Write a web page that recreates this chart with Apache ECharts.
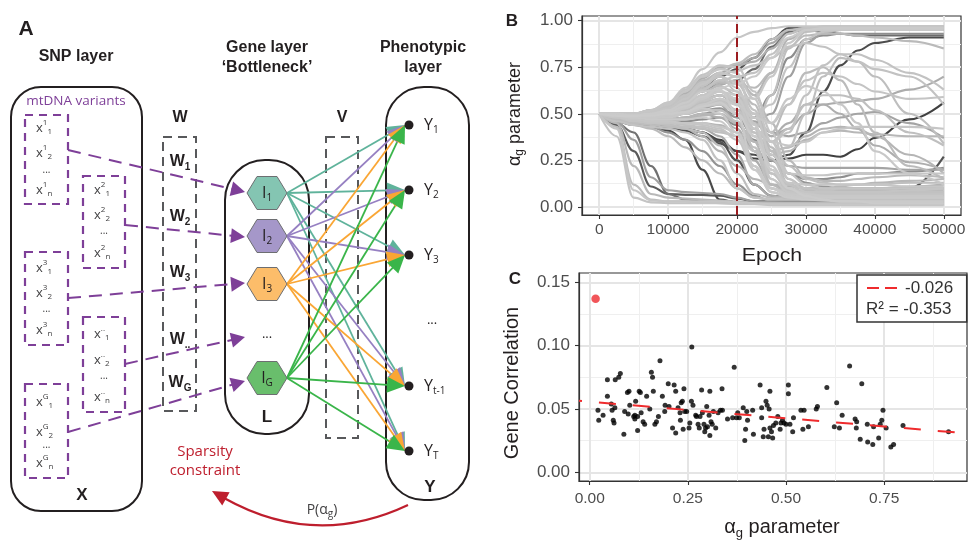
<!DOCTYPE html>
<html>
<head>
<meta charset="utf-8">
<script src="https://cdn.jsdelivr.net/npm/echarts@6/dist/echarts.min.js"></script>
<style>
  html, body { margin: 0; padding: 0; background: #fff; }
  #chart { width: 970px; height: 542px; }
</style>
</head>
<body>
<div id="chart"></div>
<script>
// ---------- panel B: alpha_g trajectories over training ----------
const epochs = [0, 2500, 5000, 7500, 10000, 12500, 15000, 17500, 20000, 22500, 25000, 27500, 30000, 32500, 35000, 37500, 40000, 45000, 50000];
const cutEpoch = 20000;

// genes that collapse early
const earlyDrop = [
  [.50, .38, .05, .025, .02, .02, .02, .02, .015, .015, .01, .01, .01, .01, .01, .01, .01, .01, .01],
  [.50, .43, .12, .04, .03, .03, .025, .02, .02, .02, .02, .02, .02, .02, .02, .02, .02, .02, .02],
  [.50, .45, .22, .07, .05, .045, .04, .035, .03, .02, .02, .02, .02, .02, .02, .02, .02, .02, .02],
  [.50, .44, .30, .11, .07, .065, .065, .06, .045, .03, .03, .03, .03, .03, .03, .03, .03, .03, .03],
  [.50, .46, .36, .16, .09, .08, .075, .07, .05, .03, .025, .02, .02, .02, .02, .02, .02, .02, .02],
  [.50, .42, .09, .035, .03, .03, .03, .03, .025, .02, .015, .015, .015, .015, .015, .015, .015, .015, .015],
  [.50, .45, .40, .22, .07, .04, .03, .03, .025, .02, .02, .02, .02, .02, .02, .02, .02, .02, .02]
];
// genes drifting down then dropping around the cut
const midDrop = [
  [.50, .46, .44, .43, .41, .36, .20, .04, .025, .02, .02, .02, .02, .02, .02, .02, .02, .02, .02],
  [.50, .46, .44, .43, .42, .40, .36, .25, .10, .05, .04, .04, .04, .04, .04, .04, .04, .035, .035],
  [.50, .47, .45, .44, .43, .42, .40, .33, .18, .07, .05, .05, .05, .05, .05, .05, .05, .05, .05],
  [.50, .48, .46, .45, .44, .43, .42, .38, .28, .12, .06, .05, .05, .05, .05, .05, .05, .06, .06],
  [.50, .48, .47, .46, .46, .45, .45, .43, .40, .22, .08, .06, .05, .05, .05, .05, .05, .05, .05],
  [.50, .47, .44, .42, .38, .32, .25, .18, .10, .05, .04, .04, .04, .04, .04, .04, .04, .04, .04],
  [.50, .47, .45, .43, .40, .36, .30, .22, .12, .06, .03, .03, .03, .03, .03, .03, .03, .03, .03],
  [.50, .48, .46, .45, .45, .45, .44, .42, .36, .20, .10, .08, .08, .08, .08, .08, .08, .09, .10],
  [.50, .47, .46, .45, .44, .42, .38, .30, .22, .15, .12, .11, .10, .10, .10, .10, .10, .11, .12],
  [.50, .49, .47, .46, .45, .44, .43, .41, .38, .30, .18, .12, .10, .09, .08, .08, .08, .08, .08]
];
// genes rising first, then pruned
const riseFall = [
  [.50, .50, .50, .52, .55, .62, .70, .74, .72, .45, .15, .08, .06, .05, .05, .05, .05, .05, .05],
  [.50, .50, .50, .51, .54, .59, .66, .70, .62, .30, .10, .06, .05, .045, .04, .04, .04, .04, .04],
  [.50, .50, .49, .50, .52, .56, .62, .63, .50, .20, .08, .05, .04, .035, .03, .03, .03, .03, .03],
  [.50, .50, .49, .49, .50, .53, .58, .60, .55, .35, .12, .07, .06, .06, .06, .06, .06, .06, .06],
  [.50, .50, .49, .48, .49, .51, .55, .57, .52, .40, .20, .10, .08, .08, .08, .08, .08, .07, .07],
  [.50, .49, .48, .48, .48, .50, .53, .50, .40, .22, .10, .07, .06, .05, .05, .05, .05, .05, .05],
  [.50, .50, .50, .51, .53, .57, .64, .68, .66, .55, .30, .12, .09, .08, .08, .08, .08, .08, .08],
  [.50, .50, .50, .52, .56, .63, .71, .76, .75, .62, .40, .18, .12, .10, .10, .10, .10, .10, .10],
  [.50, .49, .48, .47, .47, .48, .50, .48, .42, .25, .12, .09, .08, .07, .07, .07, .07, .07, .07],
  [.50, .50, .49, .49, .50, .52, .56, .58, .55, .48, .35, .22, .15, .13, .12, .12, .12, .13, .13],
  [.50, .50, .50, .50, .52, .55, .60, .64, .62, .50, .28, .18, .17, .17, .18, .18, .18, .18, .18],
  [.50, .50, .49, .49, .50, .52, .55, .55, .45, .30, .25, .22, .21, .21, .21, .21, .21, .20, .20],
  [.50, .50, .50, .51, .54, .60, .68, .72, .70, .60, .45, .25, .16, .14, .14, .15, .16, .17, .16],
  [.50, .49, .49, .49, .50, .51, .54, .56, .50, .38, .20, .10, .06, .04, .03, .03, .02, .02, .02],
  [.50, .50, .50, .51, .53, .58, .65, .70, .67, .52, .26, .12, .07, .05, .04, .03, .03, .03, .03],
  [.50, .49, .48, .48, .49, .50, .52, .53, .48, .38, .28, .18, .13, .11, .10, .10, .10, .10, .10],
  [.50, .50, .49, .49, .51, .54, .59, .62, .58, .44, .22, .10, .07, .06, .06, .06, .06, .06, .06],
  [.50, .49, .49, .48, .49, .50, .52, .52, .46, .32, .15, .08, .05, .04, .04, .04, .04, .04, .04],
  [.50, .50, .50, .51, .53, .58, .66, .72, .70, .58, .35, .15, .08, .06, .05, .05, .05, .05, .05],
  [.50, .50, .49, .49, .50, .52, .57, .60, .57, .50, .32, .15, .10, .09, .09, .09, .09, .09, .09],
  [.50, .49, .48, .47, .47, .47, .48, .46, .38, .22, .10, .06, .05, .05, .05, .05, .05, .05, .05],
  [.50, .50, .50, .51, .54, .60, .67, .70, .64, .42, .18, .09, .07, .07, .07, .07, .07, .07, .07],
  [.50, .49, .48, .47, .46, .45, .45, .44, .40, .30, .18, .12, .10, .10, .11, .12, .13, .14, .15],
  [.50, .50, .50, .50, .52, .55, .60, .62, .56, .38, .20, .13, .12, .12, .12, .12, .12, .11, .11]
];
// genes that saturate near 1
const riseHigh = [
  [.50, .50, .50, .52, .56, .64, .74, .83, .91, .94, .96, .97, .97, .97, .97, .97, .97, .97, .97],
  [.50, .50, .50, .52, .55, .62, .70, .74, .77, .82, .90, .95, .96, .96, .96, .96, .96, .96, .96],
  [.50, .50, .50, .51, .54, .60, .67, .72, .76, .80, .88, .95, .96, .96, .96, .96, .96, .96, .96],
  [.50, .50, .50, .51, .53, .58, .64, .70, .74, .80, .90, .96, .96, .96, .96, .96, .95, .95, .95],
  [.50, .50, .49, .50, .52, .57, .63, .68, .70, .72, .82, .93, .96, .96, .96, .96, .96, .96, .96],
  [.50, .50, .49, .49, .51, .55, .60, .66, .68, .60, .72, .90, .95, .96, .96, .96, .96, .96, .96],
  [.50, .50, .49, .49, .50, .53, .58, .62, .60, .58, .70, .88, .95, .95, .95, .95, .95, .95, .95],
  [.50, .49, .48, .48, .48, .50, .54, .56, .52, .45, .50, .70, .88, .93, .95, .95, .95, .95, .95],
  [.50, .48, .46, .45, .44, .43, .42, .40, .38, .42, .60, .85, .94, .95, .95, .95, .95, .95, .95],
  [.50, .50, .50, .51, .53, .57, .62, .66, .68, .74, .86, .94, .95, .94, .93, .92, .92, .92, .92],
  [.50, .47, .45, .44, .43, .41, .38, .34, .30, .28, .25, .28, .40, .62, .76, .84, .88, .91, .91],
  [.50, .50, .50, .51, .53, .58, .63, .67, .66, .64, .72, .86, .92, .93, .93, .92, .91, .89, .85],
  [.50, .49, .48, .47, .47, .48, .50, .52, .50, .48, .60, .80, .90, .92, .93, .93, .93, .93, .93],
  [.50, .50, .50, .50, .52, .55, .60, .62, .58, .50, .55, .75, .90, .94, .95, .96, .96, .96, .96],
  [.50, .50, .50, .52, .55, .61, .69, .75, .76, .78, .85, .93, .96, .97, .97, .97, .97, .97, .97],
  [.50, .50, .49, .50, .51, .54, .59, .64, .66, .70, .80, .91, .95, .96, .96, .96, .96, .96, .96]
];
// genes still moving late in training
const lateMove = [
  [.50, .50, .49, .50, .52, .56, .60, .62, .55, .42, .35, .40, .60, .76, .82, .82, .79, .72, .63],
  [.50, .49, .48, .48, .49, .52, .56, .58, .52, .40, .30, .32, .50, .70, .80, .78, .70, .50, .34],
  [.50, .48, .46, .45, .44, .42, .40, .36, .30, .26, .25, .26, .28, .28, .27, .31, .37, .47, .56],
  [.50, .50, .49, .50, .51, .54, .58, .60, .55, .45, .38, .42, .50, .55, .56, .57, .58, .63, .70],
  [.50, .49, .48, .48, .49, .51, .54, .55, .50, .42, .35, .33, .35, .40, .42, .43, .43, .43, .42],
  [.50, .49, .48, .47, .47, .48, .50, .50, .45, .35, .28, .30, .36, .40, .41, .40, .39, .38, .38],
  [.50, .50, .49, .49, .50, .52, .55, .56, .50, .40, .35, .42, .55, .60, .60, .58, .52, .40, .33],
  [.50, .47, .45, .44, .43, .42, .40, .35, .25, .12, .06, .05, .04, .04, .04, .04, .05, .10, .27],
  [.50, .50, .49, .49, .50, .53, .57, .60, .58, .50, .45, .55, .68, .72, .70, .66, .62, .58, .59],
  [.50, .50, .50, .51, .53, .57, .62, .65, .60, .48, .40, .55, .72, .75, .68, .55, .40, .22, .15],
  [.50, .50, .49, .50, .51, .53, .57, .60, .56, .45, .38, .45, .55, .55, .50, .42, .33, .24, .20],
  [.50, .49, .48, .48, .49, .51, .55, .58, .55, .48, .45, .58, .65, .62, .55, .45, .30, .18, .12],
  [.50, .48, .47, .46, .46, .47, .49, .50, .45, .35, .30, .32, .38, .42, .43, .42, .38, .28, .18],
  [.50, .50, .50, .51, .54, .59, .66, .71, .73, .76, .80, .86, .88, .86, .82, .78, .74, .70, .55],
  [.50, .49, .48, .48, .49, .50, .53, .55, .52, .46, .40, .38, .40, .45, .48, .50, .51, .45, .37],
  [.50, .48, .47, .46, .46, .46, .47, .48, .44, .36, .25, .18, .15, .15, .16, .18, .18, .19, .21]
];

// ---------- panel C: gene correlation vs alpha_g ----------
const alphaG = [
  0.021, 0.023, 0.034, 0.045, 0.045, 0.055, 0.057, 0.060, 0.062, 0.064, 0.065, 0.074, 0.078, 0.087, 0.089, 0.096,
  0.100, 0.098, 0.102, 0.112, 0.115, 0.115, 0.117, 0.122, 0.122, 0.126, 0.129, 0.131, 0.136, 0.140, 0.145, 0.153,
  0.157, 0.160, 0.162, 0.166, 0.170, 0.175, 0.179, 0.185, 0.191, 0.192, 0.200, 0.202, 0.211, 0.215, 0.219, 0.219,
  0.225, 0.230, 0.231, 0.233, 0.236, 0.238, 0.240, 0.242, 0.247, 0.253, 0.255, 0.259, 0.260, 0.263, 0.270, 0.272,
  0.276, 0.279, 0.281, 0.285, 0.287, 0.291, 0.293, 0.295, 0.298, 0.300, 0.304, 0.306, 0.306, 0.309, 0.312, 0.315,
  0.321, 0.327, 0.333, 0.337, 0.338, 0.351, 0.364, 0.368, 0.374, 0.377, 0.381, 0.391, 0.395, 0.397, 0.400, 0.402,
  0.415, 0.417, 0.434, 0.438, 0.438, 0.442, 0.444, 0.449, 0.452, 0.455, 0.457, 0.459, 0.459, 0.463, 0.466, 0.468,
  0.474, 0.479, 0.485, 0.487, 0.491, 0.495, 0.500, 0.506, 0.506, 0.510, 0.517, 0.519, 0.538, 0.543, 0.546, 0.557,
  0.577, 0.580, 0.604, 0.623, 0.629, 0.636, 0.643, 0.662, 0.676, 0.679, 0.680, 0.689, 0.693, 0.707, 0.708, 0.721,
  0.723, 0.736, 0.740, 0.744, 0.747, 0.755, 0.767, 0.774, 0.798, 0.914
];
const geneCorr = [
  0.049, 0.041, 0.045, 0.073, 0.060, 0.054, 0.049, 0.041, 0.039, 0.051, 0.073, 0.075, 0.078, 0.030, 0.048, 0.063,
  0.064, 0.046, 0.053, 0.044, 0.045, 0.042, 0.056, 0.044, 0.033, 0.064, 0.063, 0.047, 0.040, 0.038, 0.060, 0.050,
  0.079, 0.075, 0.064, 0.038, 0.040, 0.044, 0.088, 0.060, 0.048, 0.053, 0.070, 0.052, 0.035, 0.069, 0.031, 0.064,
  0.051, 0.047, 0.041, 0.055, 0.056, 0.034, 0.066, 0.048, 0.048, 0.035, 0.039, 0.056, 0.099, 0.053, 0.045, 0.044,
  0.038, 0.035, 0.044, 0.065, 0.047, 0.038, 0.032, 0.035, 0.052, 0.036, 0.045, 0.064, 0.029, 0.040, 0.038, 0.048,
  0.035, 0.047, 0.049, 0.066, 0.049, 0.042, 0.043, 0.083, 0.043, 0.047, 0.043, 0.051, 0.025, 0.034, 0.048, 0.041,
  0.049, 0.030, 0.069, 0.051, 0.043, 0.028, 0.034, 0.056, 0.053, 0.028, 0.050, 0.064, 0.035, 0.032, 0.027, 0.037,
  0.039, 0.044, 0.034, 0.039, 0.041, 0.039, 0.038, 0.069, 0.062, 0.038, 0.032, 0.043, 0.049, 0.034, 0.049, 0.036,
  0.050, 0.052, 0.067, 0.036, 0.055, 0.035, 0.045, 0.084, 0.042, 0.035, 0.040, 0.026, 0.070, 0.038, 0.024, 0.022,
  0.036, 0.027, 0.038, 0.041, 0.049, 0.035, 0.020, 0.022, 0.037, 0.032
];
const outlierPoint = [0.015, 0.137];
const regSlope = -0.026;
const regIntercept = 0.0557;
const regR2 = -0.353;

// ---------- panel A: network schematic labels ----------
const snpGroups = ['1', '2', '3', '..', 'G'];
const snpRows = ['1', '2', '...', 'n'];
const wLabels = ['1', '2', '3', '..', 'G'];
const geneNodes = ['1', '2', '3', null, 'G'];
const phenoNodes = ['1', '2', '3', null, 't-1', 'T'];

// ---------- styles ----------
const SANS = '"Liberation Sans", Arial, Helvetica, sans-serif';
const HUM = '"Open Sans", "Noto Sans", sans-serif';
const INK = '#231f20';
const PURPLE = '#7e3f98';
const RED = '#be1e2d';
const edgeColors = ['#5fb39b', '#9680c2', '#faa634', '#3ab54a'];
const hexFill = ['#84c5b2', '#a597c9', '#fcbd6a', '#69be6c'];
const shades = {
  earlyDrop: ['#c4c4c4', '#bdbdbd', '#b8b8b8', '#5a5a5a', '#a0a0a0', '#c6c6c6', '#707070'],
  midDrop: ['#4a4a4a', '#c2c2c2', '#bdbdbd', '#aaaaaa', '#c6c6c6', '#bababa', '#939393', '#c4c4c4', '#b4b4b4', '#c1c1c1'],
  riseFall: ['#c6c6c6', '#bfbfbf', '#cacaca', '#b8b8b8', '#c2c2c2', '#c8c8c8', '#bcbcbc', '#c4c4c4', '#adadad', '#bfbfbf',
             '#c6c6c6', '#a4a4a4', '#b9b9b9', '#cbcbcb', '#c2c2c2', '#969696', '#c8c8c8', '#c0c0c0', '#c5c5c5', '#bbbbbb',
             '#c9c9c9', '#c3c3c3', '#b7b7b7', '#c6c6c6'],
  riseHigh: ['#c6c6c6', '#bdbdbd', '#a8a8a8', '#525252', '#c2c2c2', '#b4b4b4', '#c8c8c8', '#a0a0a0', '#bfbfbf', '#6c6c6c',
             '#4c4c4c', '#bababa', '#8e8e8e', '#c4c4c4', '#b0b0b0', '#cacaca'],
  lateMove: ['#c2c2c2', '#bebebe', '#404040', '#acacac', '#c6c6c6', '#b7b7b7', '#bfbfbf', '#525252', '#c4c4c4', '#bbbbbb',
             '#aeaeae', '#c8c8c8', '#b5b5b5', '#c2c2c2', '#a4a4a4', '#8e8e8e']
};

// ---------- graphic helpers ----------
const mctx = document.createElement('canvas').getContext('2d');
function textWidth(s, font) { mctx.font = font; return mctx.measureText(s).width; }
function fontOf(size, weight, fam) { return (weight || 'normal') + ' ' + size + 'px ' + (fam || SANS); }

function txt(s, x, y, size, o) {
  o = o || {};
  const al = o.align || 'center';
  return {
    type: 'text', x: x, y: y, z: o.z || 50, silent: true, rotation: o.rot || 0, scaleX: o.sx || 1,
    style: { text: s, font: fontOf(size, o.weight, o.fam), fill: o.color || INK,
      align: al, verticalAlign: 'middle', textAlign: al, textVerticalAlign: 'middle' }
  };
}
// parts: [text, size, dy, weight]
function rich(parts, x, y, o) {
  o = o || {};
  const items = parts.map(p => {
    const it = { t: p[0], size: p[1], dy: p[2] || 0, weight: p[3] || o.weight || 'normal' };
    it.font = fontOf(it.size, it.weight, o.fam);
    it.w = textWidth(it.t, it.font);
    return it;
  });
  const total = items.reduce((s, it) => s + it.w, 0);
  let cx = o.align === 'left' ? 0 : (o.align === 'right' ? -total : -total / 2);
  const children = items.map(it => {
    const el = { type: 'text', x: cx, y: it.dy, z: o.z || 50, silent: true,
      style: { text: it.t, font: it.font, fill: o.color || INK,
        align: 'left', verticalAlign: 'middle', textAlign: 'left', textVerticalAlign: 'middle' } };
    cx += it.w;
    return el;
  });
  return { type: 'group', x: x, y: y, rotation: o.rot || 0, children: children };
}
function box(x, y, w, h, r, o) {
  o = o || {};
  return { type: 'rect', z: o.z || 40, silent: true, shape: { x: x, y: y, width: w, height: h, r: r || 0 },
    style: { fill: o.fill || 'none', stroke: o.stroke || INK, lineWidth: o.lw || 2, lineDash: o.dash || null } };
}
function seg(x1, y1, x2, y2, color, width, dash, z) {
  return { type: 'line', z: z || 45, silent: true, shape: { x1: x1, y1: y1, x2: x2, y2: y2 },
    style: { stroke: color, lineWidth: width, lineDash: dash || null } };
}
function head(tx, ty, fx, fy, color, len, hw, z) {
  const dx = tx - fx, dy = ty - fy, d = Math.hypot(dx, dy), ux = dx / d, uy = dy / d;
  const bx = tx - ux * len, by = ty - uy * len;
  return { type: 'polygon', z: z || 46, silent: true,
    shape: { points: [[tx, ty], [bx - uy * hw, by + ux * hw], [bx + uy * hw, by - ux * hw]] },
    style: { fill: color } };
}
function arrow(x1, y1, x2, y2, color, width, dash, len, hw) {
  const d = Math.hypot(x2 - x1, y2 - y1), k = (d - len * 0.8) / d;
  return [seg(x1, y1, x1 + (x2 - x1) * k, y1 + (y2 - y1) * k, color, width, dash),
          head(x2, y2, x1, y1, color, len, hw)];
}

// ---------- panel A layout ----------
const G = [];
G.push(txt('A', 26, 29, 21, { weight: 'bold' }));
G.push(txt('SNP layer', 76, 57, 16, { weight: 'bold' }));
G.push(txt('Gene layer', 267, 48, 16, { weight: 'bold' }));
G.push(txt('\u2018Bottleneck\u2019', 267, 68, 16, { weight: 'bold' }));
G.push(txt('Phenotypic', 423, 48, 16, { weight: 'bold' }));
G.push(txt('layer', 423, 68, 16, { weight: 'bold' }));

// SNP layer
G.push(box(11, 87, 131, 424, 30));
G.push(txt('mtDNA variants', 76, 101, 13.5, { fam: HUM, color: PURPLE }));
const snpBoxes = [[25, 115, 43, 89], [83, 176, 42, 92], [25, 252, 43, 93], [83, 317, 42, 95], [25, 384, 43, 94]];
const snpRowY = [[128, 153, 172, 190], [190, 215, 233, 253], [268, 293, 311, 330], [334, 360, 378, 397], [402, 432, 447, 463]];
const snpArrows = [[68, 150, 245, 192], [125, 225, 245, 237], [68, 298, 245, 283], [125, 364, 245, 337], [68, 432, 245, 381]];
snpGroups.forEach((grp, i) => {
  const b = snpBoxes[i];
  G.push(box(b[0], b[1], b[2], b[3], 0, { stroke: PURPLE, lw: 2.2, dash: [8, 6] }));
  snpRows.forEach((row, j) => {
    const y = snpRowY[i][j];
    if (row === '...') G.push(txt('...', b[0] + b[2] / 2, y - 2, 10, { fam: HUM, color: '#414042' }));
    else G.push(rich([['x', 13, 0], [grp, 8, -5], [row, 8, 4]], b[0] + 11, y, { align: 'left', fam: HUM, color: '#414042' }));
  });
  const a = snpArrows[i];
  arrow(a[0], a[1], a[2], a[3], PURPLE, 2, [13, 8], 14, 7.5).forEach(e => G.push(e));
});
G.push(txt('X', 82, 495, 17, { weight: 'bold' }));

// W weights
G.push(txt('W', 180, 118, 16, { weight: 'bold' }));
G.push(box(163, 137, 33, 274, 0, { stroke: '#58595b', lw: 2, dash: [9, 6] }));
const wY = [162, 217, 273, 340, 383];
wLabels.forEach((s, i) => G.push(rich([['W', 16, 0, 'bold'], [s, 10, 5, 'bold']], 180, wY[i])));

// Gene layer (bottleneck)
G.push(box(225, 160, 84, 274, 40));
const hexX = 267, hexY = [193, 236, 284, 337, 378];
// V weights
G.push(txt('V', 342, 118, 16, { weight: 'bold' }));
G.push(box(326, 137, 32, 301, 0, { stroke: '#58595b', lw: 2, dash: [9, 6] }));

// Phenotypic layer
G.push(box(386, 87, 83, 413, 38));
const phX = 409, phY = [125, 190, 255, 323, 386, 451];

// edges gene -> phenotype
let srcIdx = 0;
geneNodes.forEach((g, i) => {
  if (g === null) return;
  const col = edgeColors[srcIdx++];
  phenoNodes.forEach((p, j) => {
    if (p === null) return;
    arrow(hexX + 20, hexY[i], phX - 4, phY[j], col, 1.8, null, 18, 8).forEach(e => G.push(e));
  });
});
srcIdx = 0;
geneNodes.forEach((g, i) => {
  const cy = hexY[i];
  if (g === null) { G.push(txt('...', hexX, cy - 3, 13, { fam: HUM })); return; }
  G.push({ type: 'polygon', z: 47, silent: true,
    shape: { points: [[hexX - 20, cy], [hexX - 10, cy - 16.5], [hexX + 10, cy - 16.5], [hexX + 20, cy], [hexX + 10, cy + 16.5], [hexX - 10, cy + 16.5]] },
    style: { fill: hexFill[srcIdx++], stroke: '#6d6e71', lineWidth: 1 } });
  G.push(rich([['I', 16, 0], [g, 10, 5]], hexX, cy, { fam: HUM, z: 48 }));
});
G.push(txt('L', 267, 417, 17, { weight: 'bold' }));
phenoNodes.forEach((p, j) => {
  const cy = phY[j];
  if (p === null) { G.push(txt('...', 432, cy - 3, 13, { fam: HUM })); return; }
  G.push({ type: 'circle', z: 49, silent: true, shape: { cx: phX, cy: cy, r: 4.5 }, style: { fill: INK } });
  G.push(rich([['Y', 16, 0], [p, 10, 5]], 424, cy, { align: 'left', fam: HUM }));
});
G.push(txt('Y', 430, 487, 17, { weight: 'bold' }));

// sparsity feedback
G.push(txt('Sparsity', 205, 452, 15, { fam: HUM, color: RED }));
G.push(txt('constraint', 205, 471, 15, { fam: HUM, color: RED }));
G.push({ type: 'bezierCurve', z: 45, silent: true,
  shape: { x1: 408, y1: 505, cpx1: 315, cpy1: 549, x2: 224, y2: 498 },
  style: { stroke: RED, lineWidth: 2.2, fill: 'none' } });
G.push(head(212, 491, 315, 549, RED, 16, 7.5));
G.push(rich([['P(\u03b1', 14], ['g', 10, 4], [')', 14]], 322, 510, { fam: HUM, color: '#414042' }));

// ---------- panel B / C decorations ----------
G.push(txt('B', 512, 21, 17, { weight: 'bold' }));
G.push(txt('C', 515, 279, 17, { weight: 'bold' }));
G.push(rich([['\u03b1', 18], ['g', 12, 5], [' parameter', 18]], 515, 114, { rot: Math.PI / 2 }));
G.push(txt('Epoch', 772, 256, 19, { sx: 1.12 }));
G.push(txt('Gene Correlation', 512, 383, 20, { rot: Math.PI / 2 }));
G.push(rich([['\u03b1', 20], ['g', 13, 6], [' parameter', 20]], 782, 527));
// fit legend
G.push(box(857, 275, 109.7, 47, 0, { stroke: '#333', fill: '#fff', lw: 1.5, z: 60 }));
G.push(seg(867, 288, 897, 288, '#ef2b2d', 2, [12, 6], 61));
G.push(txt(regSlope.toFixed(3), 905, 288, 17, { align: 'left', color: '#333', z: 61 }));
G.push(txt('R\u00b2 = ' + regR2.toFixed(3), 866, 309, 17, { align: 'left', color: '#333', z: 61 }));

// ---------- chart ----------
const LABEL = '#4d4d4d';
function majorAxis(grid, min, max, ticks, fmt, size, margin) {
  return {
    type: 'value', gridIndex: grid, min: min, max: max,
    axisLine: { show: true, onZero: false, lineStyle: { color: '#333', width: 1.2 } },
    axisTick: { show: true, customValues: ticks, length: 4, lineStyle: { color: '#333', width: 1.1 } },
    axisLabel: { customValues: ticks, formatter: fmt, fontSize: size, fontFamily: SANS, color: LABEL, margin: margin },
    splitLine: { show: true, lineStyle: { color: '#e5e5e5', width: 2 } }
  };
}
function minorAxis(grid, min, max, ticks) {
  return {
    type: 'value', gridIndex: grid, min: min, max: max,
    axisLine: { show: false, onZero: false },
    axisTick: { show: false, customValues: ticks },
    axisLabel: { show: false, customValues: ticks },
    splitLine: { show: true, lineStyle: { color: '#efefef', width: 1 } }
  };
}
const fmt2 = v => v.toFixed(2);
const fmtInt = v => String(Math.round(v));

// darker trajectories first so the light bundle sits on top, as in the original
const lum = c => parseInt(c.slice(1, 3), 16);
const traces = [];
[['earlyDrop', earlyDrop], ['midDrop', midDrop], ['riseFall', riseFall], ['riseHigh', riseHigh], ['lateMove', lateMove]]
  .forEach(([name, group]) => group.forEach((vals, i) => traces.push({ vals: vals, color: shades[name][i] })));
traces.sort((a, b) => lum(a.color) - lum(b.color));

const series = traces.map(t => ({
  type: 'line', xAxisIndex: 0, yAxisIndex: 0, silent: true,
  data: epochs.map((e, k) => [e, t.vals[k]]),
  showSymbol: false, symbol: 'none', smooth: 0.4, smoothMonotone: 'x',
  lineStyle: { color: t.color, width: 2.1 }
}));
series[series.length - 1].markLine = {
  silent: true, symbol: ['none', 'none'], label: { show: false },
  lineStyle: { color: '#9b1c20', width: 2, type: [9, 5] },
  data: [{ xAxis: cutEpoch }]
};

const cMin = -0.0273, cMax = 0.961;
series.push({
  type: 'line', xAxisIndex: 2, yAxisIndex: 2, silent: true, symbol: 'none',
  data: [[cMin, regIntercept + regSlope * cMin], [cMax, regIntercept + regSlope * cMax]],
  lineStyle: { color: '#ef2b2d', width: 2, type: [17, 17], dashOffset: 14 }
});
series.push({
  type: 'scatter', xAxisIndex: 2, yAxisIndex: 2, silent: true, symbolSize: 5,
  itemStyle: { color: '#000' },
  data: alphaG.map((a, i) => [a, geneCorr[i]])
});
series.push({
  type: 'scatter', xAxisIndex: 2, yAxisIndex: 2, silent: true, symbolSize: 8.5,
  itemStyle: { color: '#ee2a2f' },
  data: [outlierPoint]
});

const option = {
  animation: false,
  backgroundColor: '#fff',
  grid: [
    { left: 582, top: 16, width: 379, height: 199, show: true, borderColor: '#333', borderWidth: 1.2, backgroundColor: '#fff' },
    { left: 579, top: 273, width: 388, height: 208, show: true, borderColor: '#333', borderWidth: 1.2, backgroundColor: '#fff' }
  ],
  xAxis: [
    majorAxis(0, -2500, 52500, [0, 10000, 20000, 30000, 40000, 50000], fmtInt, 15.5, 7),
    minorAxis(0, -2500, 52500, [5000, 15000, 25000, 35000, 45000]),
    majorAxis(1, cMin, cMax, [0, 0.25, 0.5, 0.75], fmt2, 15.5, 10),
    minorAxis(1, cMin, cMax, [0.125, 0.375, 0.625, 0.875])
  ],
  yAxis: [
    majorAxis(0, -0.043, 1.025, [0, 0.25, 0.5, 0.75, 1], fmt2, 17, 9),
    minorAxis(0, -0.043, 1.025, [0.125, 0.375, 0.625, 0.875]),
    majorAxis(1, -0.0069, 0.1574, [0, 0.05, 0.1, 0.15], fmt2, 17, 9),
    minorAxis(1, -0.0069, 0.1574, [0.025, 0.075, 0.125])
  ],
  series: series,
  graphic: { elements: G }
};

const chart = echarts.init(document.getElementById('chart'));
chart.setOption(option);
</script>
</body>
</html>
